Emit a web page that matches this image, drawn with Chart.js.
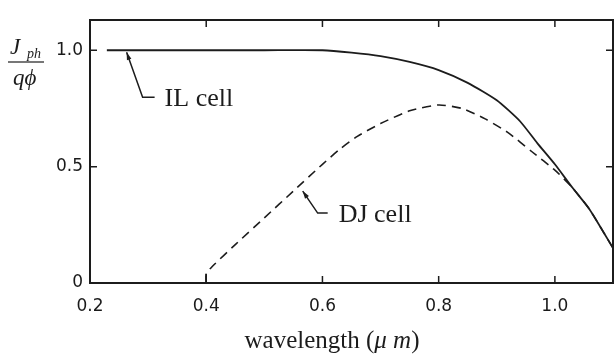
<!DOCTYPE html>
<html lang="en">
<head>
  <meta charset="UTF-8" />
  <title>Jph / q phi vs wavelength</title>
  <script src="https://cdn.jsdelivr.net/npm/chart.js"></script>
  <style>
    html, body { margin: 0; padding: 0; background: #ffffff; }
    #wrap { width: 614px; height: 356px; }
  </style>
</head>
<body>
  <div id="wrap"><canvas id="respChart" width="614" height="356"></canvas></div>
  <script>
    // IL cell (solid) and DJ cell (dashed) curves
    const ilX = [0.229, 0.3, 0.4, 0.5, 0.6, 0.65, 0.7, 0.75, 0.8, 0.85, 0.9, 0.94, 0.97, 1.0, 1.03, 1.06, 1.1];
    const ilY = [1.0, 1.0, 1.0, 1.0, 1.0, 0.99, 0.975, 0.95, 0.915, 0.86, 0.785, 0.695, 0.6, 0.51, 0.41, 0.315, 0.15];

    const djX = [0.4, 0.4, 0.41, 0.45, 0.5, 0.55, 0.6, 0.63, 0.66, 0.7, 0.75, 0.8, 0.84, 0.88, 0.92, 0.96, 1.0, 1.03, 1.06, 1.1];
    const djY = [0, 0.04, 0.07, 0.165, 0.28, 0.395, 0.51, 0.575, 0.63, 0.685, 0.74, 0.765, 0.75, 0.705, 0.645, 0.565, 0.485, 0.41, 0.315, 0.15];

    const xTicks = [0.2, 0.4, 0.6, 0.8, 1.0];
    const xInnerTicks = [0.4, 0.6, 0.8, 1.0];
    const yTicks = [0, 0.5, 1.0];

    const ink = '#1c1c1c';

    const toPts = (xs, ys) => xs.map((x, i) => ({ x: x, y: ys[i] }));

    // frame, inward ticks, labels and arrows
    const decor = {
      id: 'decor',
      afterDraw(chart) {
        const ctx = chart.ctx;
        const a = chart.chartArea;
        const xs = chart.scales.x, ys = chart.scales.y;
        ctx.save();
        ctx.strokeStyle = ink;
        ctx.lineWidth = 2;
        ctx.strokeRect(a.left, a.top, a.right - a.left, a.bottom - a.top);

        ctx.lineWidth = 1.5;
        ctx.beginPath();
        xInnerTicks.forEach(v => {
          const px = xs.getPixelForValue(v);
          ctx.moveTo(px, a.top); ctx.lineTo(px, a.top + 7);
          ctx.moveTo(px, a.bottom); ctx.lineTo(px, a.bottom - 7);
        });
        [0.5, 1.0].forEach(v => {
          const py = ys.getPixelForValue(v);
          ctx.moveTo(a.left, py); ctx.lineTo(a.left + 7, py);
          ctx.moveTo(a.right, py); ctx.lineTo(a.right - 7, py);
        });
        ctx.stroke();

        // little solid foot of the DJ curve at 0.4
        const fx = xs.getPixelForValue(djX[0]);
        ctx.beginPath();
        ctx.moveTo(fx, ys.getPixelForValue(djY[0]));
        ctx.lineTo(fx, ys.getPixelForValue(djY[1]));
        ctx.stroke();

        // arrows
        const arrow = (hx, hy, mx, my, ex, ey) => {
          ctx.beginPath();
          ctx.moveTo(hx, hy); ctx.lineTo(mx, my); ctx.lineTo(ex, ey);
          ctx.stroke();
          const ang = Math.atan2(hy - my, hx - mx);
          ctx.beginPath();
          ctx.moveTo(hx, hy);
          ctx.lineTo(hx - 8 * Math.cos(ang - 0.3), hy - 8 * Math.sin(ang - 0.3));
          ctx.lineTo(hx - 8 * Math.cos(ang + 0.3), hy - 8 * Math.sin(ang + 0.3));
          ctx.closePath();
          ctx.fillStyle = ink;
          ctx.fill();
        };
        ctx.lineWidth = 1.5;
        const ilHx = xs.getPixelForValue(0.263), ilHy = ys.getPixelForValue(1.0) + 2;
        arrow(ilHx, ilHy, ilHx + 16, ilHy + 45, ilHx + 28, ilHy + 45);
        const djHx = xs.getPixelForValue(0.566), djHy = ys.getPixelForValue(0.395);
        arrow(djHx, djHy, djHx + 15, djHy + 22, djHx + 25, djHy + 22);

        ctx.fillStyle = ink;
        ctx.font = '26px "Liberation Serif", "Times New Roman", serif';
        ctx.textBaseline = 'alphabetic';
        ctx.textAlign = 'left';
        ctx.fillText('IL cell', ilHx + 38, ilHy + 54);
        ctx.fillText('DJ cell', djHx + 36, djHy + 31);

        // y axis title as a fraction
        ctx.font = 'italic 23px "Liberation Serif", serif';
        ctx.fillText('J', 10, 54);
        ctx.font = 'italic 14px "Liberation Serif", serif';
        ctx.fillText('ph', 27, 58);
        ctx.fillStyle = '#777';
        ctx.fillRect(8, 61, 36, 2);
        ctx.fillStyle = ink;
        ctx.font = 'italic 23px "Liberation Serif", serif';
        ctx.fillText('q\u03D5', 13, 85);

        // x axis title
        const t1 = 'wavelength', t2 = '(', t3 = '\u03BC m', t4 = ')';
        ctx.font = '25px "Liberation Serif", serif';
        const w1 = ctx.measureText(t1 + ' ').width, w2 = ctx.measureText(t2).width, w4 = ctx.measureText(t4).width;
        ctx.font = 'italic 25px "Liberation Serif", serif';
        const w3 = ctx.measureText(t3).width;
        let x0 = 332 - (w1 + w2 + w3 + w4) / 2;
        const by = 348;
        ctx.font = '25px "Liberation Serif", serif';
        ctx.fillText(t1 + ' ' + t2, x0, by);
        x0 += w1 + w2;
        ctx.font = 'italic 25px "Liberation Serif", serif';
        ctx.fillText(t3, x0, by);
        x0 += w3;
        ctx.font = '25px "Liberation Serif", serif';
        ctx.fillText(t4, x0, by);
        ctx.restore();
      }
    };

    new Chart(document.getElementById('respChart'), {
      type: 'scatter',
      data: {
        datasets: [
          {
            label: 'IL cell',
            data: toPts(ilX, ilY),
            showLine: true,
            borderColor: ink,
            borderWidth: 1.8,
            pointRadius: 0,
            tension: 0.2
          },
          {
            label: 'DJ cell',
            data: toPts(djX, djY),
            showLine: true,
            borderColor: ink,
            borderWidth: 1.6,
            borderDash: [9, 6],
            pointRadius: 0,
            tension: 0.2
          }
        ]
      },
      options: {
        responsive: false,
        animation: false,
        layout: { padding: { top: 20, right: 1, left: 0, bottom: 0 } },
        plugins: { legend: { display: false }, tooltip: { enabled: false } },
        scales: {
          x: {
            type: 'linear',
            min: 0.2,
            max: 1.1,
            afterBuildTicks: s => { s.ticks = xTicks.map(v => ({ value: v })); },
            afterFit: s => { s.height = 73; },
            grid: { display: false, drawTicks: false },
            border: { display: false },
            ticks: {
              padding: 13,
              color: '#1a1a1a',
              font: { family: '"DejaVu Sans", sans-serif', size: 17 },
              callback: v => v.toFixed(1)
            }
          },
          y: {
            type: 'linear',
            min: 0,
            max: 1.13,
            afterBuildTicks: s => { s.ticks = yTicks.map(v => ({ value: v })); },
            afterFit: s => { s.width = 90; },
            grid: { display: false, drawTicks: false },
            border: { display: false },
            ticks: {
              padding: 7,
              color: '#1a1a1a',
              font: { family: '"DejaVu Sans", sans-serif', size: 17 },
              callback: v => v === 0 ? '0' : v.toFixed(1)
            }
          }
        }
      },
      plugins: [decor]
    });
  </script>
</body>
</html>
